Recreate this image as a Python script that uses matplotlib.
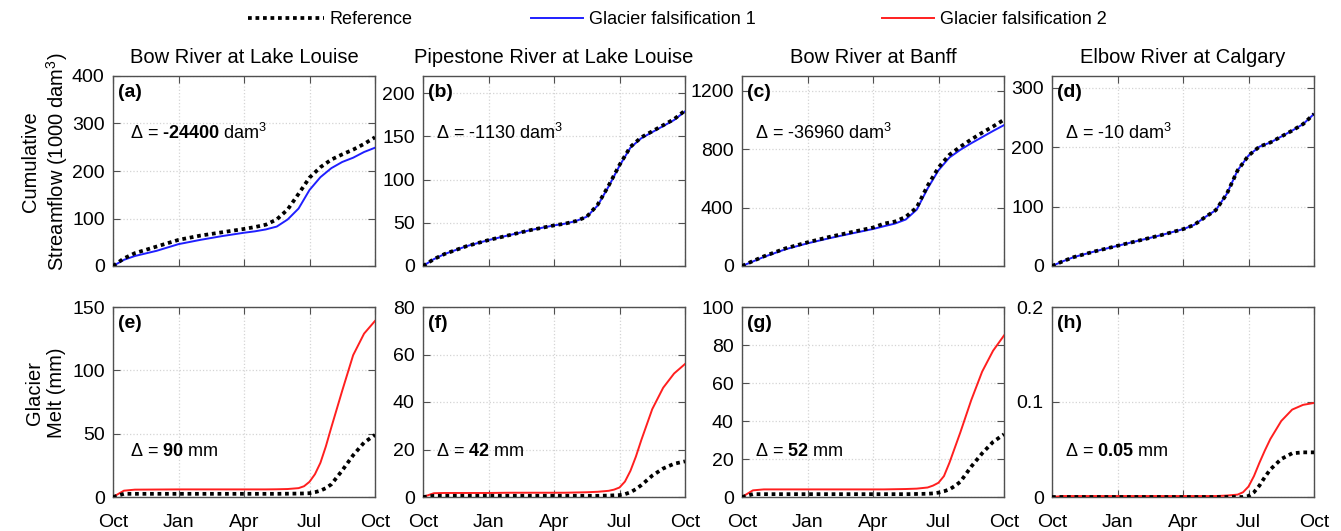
import matplotlib
matplotlib.use("Agg")
import matplotlib.pyplot as plt
from matplotlib.lines import Line2D

plt.rcParams['font.family'] = ['Liberation Sans', 'DejaVu Sans']
plt.rcParams['mathtext.fontset'] = 'custom'
plt.rcParams['mathtext.rm'] = 'Liberation Sans'
plt.rcParams['mathtext.bf'] = 'Liberation Sans:bold'
plt.rcParams['mathtext.it'] = 'Liberation Sans:italic'

# ---------------- data ----------------
# months since 1 October (water year)
months = [0, 0.5, 1, 2, 3, 4, 5, 6, 6.5, 7, 7.5, 8, 8.5, 9, 9.5, 10, 10.5, 11, 11.5, 12]
melt_months = [0, 0.5, 1, 2, 3, 4, 5, 6, 6.5, 7, 7.5, 8, 8.5, 8.75, 9, 9.25, 9.5, 9.75,
               10, 10.5, 11, 11.5, 12]
month_ticks = [0, 3, 6, 9, 12]
month_labels = ['Oct', 'Jan', 'Apr', 'Jul', 'Oct']

stations = ['Bow River at Lake Louise', 'Pipestone River at Lake Louise',
            'Bow River at Banff', 'Elbow River at Calgary']

# Cumulative streamflow (1000 dam^3)
flow_ref_a = [0, 16, 27, 41, 55, 64, 71, 78, 82, 87, 98, 119, 152, 186, 208, 224, 235, 245, 257, 271]
flow_gf1_a = [0, 13, 21, 32, 46, 55, 63, 70, 73, 77, 83, 98, 121, 160, 187, 206, 219, 228, 240, 249]
flow_ref_b = [0, 8, 14, 23, 30, 36, 42, 47, 49, 52, 57, 71, 93, 117, 138, 149, 156, 163, 170, 180]
flow_gf1_b = [0, 8, 14, 23, 30, 36, 42, 47, 49, 52, 57, 70, 92, 116, 137, 148, 155, 162, 169, 179]
flow_ref_c = [0, 34, 66, 121, 162, 199, 231, 263, 290, 304, 336, 400, 549, 674, 761, 816, 866, 912, 955, 1001]
flow_gf1_c = [0, 31, 62, 115, 155, 190, 222, 253, 272, 290, 318, 385, 530, 655, 742, 795, 840, 882, 924, 964]
flow_ref_d = [0, 8, 15, 25, 34, 43, 52, 62, 69, 82, 94, 121, 161, 186, 201, 208, 218, 228, 239, 256]
flow_gf1_d = [0, 8, 15, 25, 34, 43, 52, 62, 69, 82, 94, 121, 161, 186, 201, 208, 218, 228, 239, 256]

# Cumulative glacier melt (mm)
melt_ref_e = [0, 2.5, 2.5, 2.5, 2.5, 2.5, 2.5, 2.5, 2.5, 2.5, 2.5, 2.6, 2.7, 2.8, 3, 3.8, 5, 7,
              10, 21, 33, 43, 49]
melt_gf2_e = [0, 5, 5.8, 5.9, 6, 6, 6, 6, 6, 6, 6.1, 6.3, 7, 8.5, 12, 18, 27, 40,
              55, 84, 112, 129, 139]
melt_ref_f = [0, 0.5, 0.5, 0.5, 0.5, 0.5, 0.5, 0.5, 0.5, 0.5, 0.5, 0.5, 0.6, 0.7, 0.8, 1.2, 2, 3.3,
              5, 9, 12, 14, 15]
melt_gf2_f = [0, 1.6, 1.7, 1.7, 1.7, 1.8, 1.8, 1.8, 1.8, 1.9, 2.0, 2.2, 2.6, 3.1, 4, 6.5, 11, 17,
              24, 37, 46, 52, 56]
melt_ref_g = [0, 1.5, 1.5, 1.5, 1.5, 1.5, 1.5, 1.5, 1.5, 1.5, 1.5, 1.6, 1.7, 1.9, 2.3, 3, 4, 5.8,
              8, 16, 23, 29, 33]
melt_gf2_g = [0, 3.5, 4, 4, 4, 4, 4, 4, 4, 4.1, 4.2, 4.4, 5, 6, 7.5, 11, 18, 26,
              34, 51, 66, 77, 85]
melt_ref_h = [0, 0, 0, 0, 0, 0, 0, 0, 0, 0, 0, 0, 0, 0, 0.001, 0.005, 0.012, 0.021,
              0.029, 0.040, 0.046, 0.047, 0.047]
melt_gf2_h = [0, 0.001, 0.001, 0.001, 0.001, 0.001, 0.001, 0.001, 0.001, 0.001, 0.001, 0.0015,
              0.0025, 0.005, 0.011, 0.022, 0.036, 0.049, 0.061, 0.080, 0.092, 0.097, 0.099]

flow_ref = [flow_ref_a, flow_ref_b, flow_ref_c, flow_ref_d]
flow_gf1 = [flow_gf1_a, flow_gf1_b, flow_gf1_c, flow_gf1_d]
melt_ref = [melt_ref_e, melt_ref_f, melt_ref_g, melt_ref_h]
melt_gf2 = [melt_gf2_e, melt_gf2_f, melt_gf2_g, melt_gf2_h]

flow_yticks = [[0, 100, 200, 300, 400], [0, 50, 100, 150, 200], [0, 400, 800, 1200], [0, 100, 200, 300]]
flow_ylims = [400, 220, 1300, 320]
melt_yticks = [[0, 50, 100, 150], [0, 20, 40, 60, 80], [0, 20, 40, 60, 80, 100], [0, 0.1, 0.2]]
melt_ylims = [150, 80, 100, 0.2]

top_letters = ['(a)', '(b)', '(c)', '(d)']
bot_letters = ['(e)', '(f)', '(g)', '(h)']
flow_delta = ['-24400', '-1130', '-36960', '-10']
flow_delta_bold = [True, False, False, False]
melt_delta = ['90', '42', '52', '0.05']

legend_labels = ['Reference', 'Glacier falsification 1', 'Glacier falsification 2']

# ---------------- style ----------------
REF_KW = dict(color='black', lw=2.7, ls=(0, (1, 1)))
BLUE = '#1f1fff'
RED = '#ff1f1f'
SPINE = '#505050'

fig = plt.figure(figsize=(13.41, 5.31), dpi=100)

lefts = [113, 423, 742, 1052]
W, H = 1341.0, 531.0
aw = 262 / W
ah = 190 / H
top_bottom = 1 - 266 / H
bot_bottom = 1 - 497 / H


def style_axis(ax, yt, ylim, show_x):
    ax.set_xlim(0, 12)
    ax.set_ylim(0, ylim)
    ax.set_xticks(month_ticks)
    ax.set_yticks(yt)
    ax.set_yticklabels([('%g' % v) for v in yt])
    if show_x:
        ax.set_xticklabels(month_labels)
    else:
        ax.set_xticklabels([])
    ax.tick_params(direction='in', top=True, right=True, length=5, width=0.8,
                   color=SPINE, labelsize=14)
    ax.tick_params(axis='y', pad=6)
    ax.tick_params(axis='x', pad=12)
    ax.grid(True, color='#d4d4d4', ls=':', lw=0.9)
    for s in ax.spines.values():
        s.set_color(SPINE)
        s.set_linewidth(1.0)


def bold_num(v):
    # keep an ordinary hyphen (not a math minus) inside the bold number
    return '$\\mathbf{' + v.replace('-', '\u2010') + '}$'


for i in range(4):
    x0 = lefts[i] / W
    # top row: cumulative streamflow
    ax = fig.add_axes([x0, top_bottom, aw, ah])
    ax.plot(months, flow_gf1[i], color=BLUE, lw=1.4, zorder=3)
    ax.plot(months, flow_ref[i], zorder=4, **REF_KW)
    style_axis(ax, flow_yticks[i], flow_ylims[i], False)
    ax.set_title(stations[i], fontsize=14.5, pad=9)
    ax.text(0.02, 0.915, top_letters[i], transform=ax.transAxes, fontsize=14,
            fontweight='bold', va='center', ha='left')
    val = flow_delta[i]
    if flow_delta_bold[i]:
        s = 'Δ = ' + bold_num(val) + ' dam$^3$'
    else:
        s = 'Δ = ' + val + ' dam$^3$'
    ax.text(0.065 if i == 0 else 0.05, 0.70, s, transform=ax.transAxes,
            fontsize=13, va='center', ha='left')

    # bottom row: glacier melt
    ax2 = fig.add_axes([x0, bot_bottom, aw, ah])
    ax2.plot(melt_months, melt_gf2[i], color=RED, lw=1.4, zorder=3)
    ax2.plot(melt_months, melt_ref[i], zorder=4, **REF_KW)
    style_axis(ax2, melt_yticks[i], melt_ylims[i], True)
    ax2.text(0.02, 0.915, bot_letters[i], transform=ax2.transAxes, fontsize=14,
             fontweight='bold', va='center', ha='left')
    s2 = 'Δ = ' + bold_num(melt_delta[i]) + ' mm'
    ax2.text(0.065 if i == 0 else 0.05, 0.237, s2, transform=ax2.transAxes,
             fontsize=13, va='center', ha='left')

fig.text(0.034, 0.695, 'Cumulative\nStreamflow (1000 dam$^3$)', rotation=90,
         ha='center', va='center', multialignment='center', fontsize=14.5,
         linespacing=1.2)
fig.text(0.034, 0.26, 'Glacier\nMelt (mm)', rotation=90,
         ha='center', va='center', multialignment='center', fontsize=14.5,
         linespacing=1.2)

# legend: one entry per legend box so each handle keeps its own length
handles = [Line2D([], [], **REF_KW),
           Line2D([], [], color=BLUE, lw=1.4),
           Line2D([], [], color=RED, lw=1.4)]
leg_x = [248 / W, 531 / W, 882 / W]
leg_len = [4.2, 2.9, 2.9]
for h, lab, lx, hl in zip(handles, legend_labels, leg_x, leg_len):
    fig.legend([h], [lab], loc='center left', bbox_to_anchor=(lx, 1 - 20 / H),
               frameon=False, fontsize=13, handlelength=hl, handletextpad=0.3,
               borderpad=0, borderaxespad=0)

fig.savefig('out.png', dpi=100)
